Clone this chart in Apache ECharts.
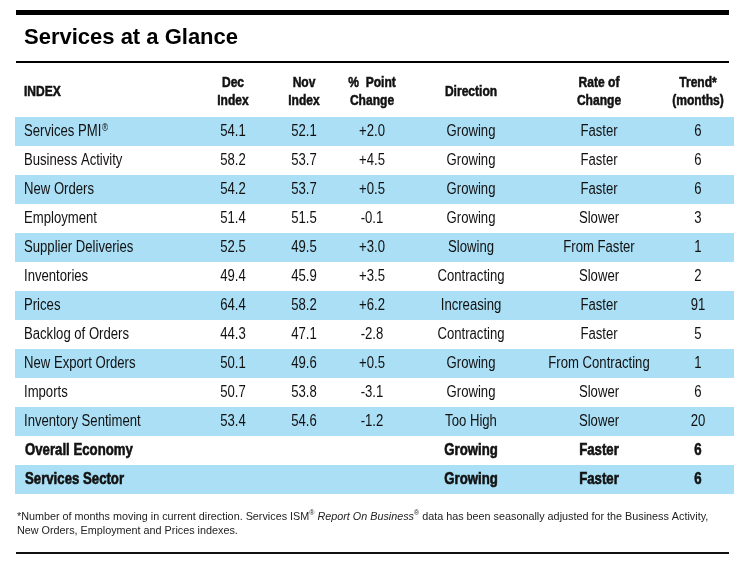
<!DOCTYPE html>
<html>
<head>
<meta charset="utf-8">
<script src="https://cdn.jsdelivr.net/npm/echarts@6/dist/echarts.min.js"></script>
<style>
    html, body { margin: 0; padding: 0; background: #fff; }
    #chart { width: 750px; height: 563px; }
</style>
</head>
<body>
<div id="chart"></div>
<script>
// table rows
let indexNames = ['Services PMI', 'Business Activity', 'New Orders', 'Employment', 'Supplier Deliveries',
    'Inventories', 'Prices', 'Backlog of Orders', 'New Export Orders', 'Imports', 'Inventory Sentiment',
    'Overall Economy', 'Services Sector'];
let decIndex = [54.1, 58.2, 54.2, 51.4, 52.5, 49.4, 64.4, 44.3, 50.1, 50.7, 53.4, null, null];
let novIndex = [52.1, 53.7, 53.7, 51.5, 49.5, 45.9, 58.2, 47.1, 49.6, 53.8, 54.6, null, null];
let pointChange = [2.0, 4.5, 0.5, -0.1, 3.0, 3.5, 6.2, -2.8, 0.5, -3.1, -1.2, null, null];
let direction = ['Growing', 'Growing', 'Growing', 'Growing', 'Slowing', 'Contracting', 'Increasing',
    'Contracting', 'Growing', 'Growing', 'Too High', 'Growing', 'Growing'];
let rateOfChange = ['Faster', 'Faster', 'Faster', 'Slower', 'From Faster', 'Slower', 'Faster', 'Faster',
    'From Contracting', 'Slower', 'Slower', 'Faster', 'Faster'];
let trendMonths = [6, 6, 6, 3, 1, 2, 91, 5, 1, 6, 20, 6, 6];

// no condensed font installed, so Liberation Sans gets squeezed horizontally
let sans = '"Liberation Sans", Arial, Helvetica, sans-serif';
let band = '#aadff6';

// x position of each column (0..750 axis = page pixels)
let colX = {name: 24, dec: 233, nov: 304, change: 372, direction: 471, rate: 599, trend: 698};

function fmtChange(v) {
    if (v === null) return '';
    return (v > 0 ? '+' : '') + v.toFixed(1);
}

function cellText(x, y, text, bold, align) {
    return {
        type: 'text',
        x: x,
        y: y,
        scaleX: bold ? 0.8 : 0.82,
        style: {
            text: text,
            x: 0,
            y: 0,
            fill: '#111',
            stroke: bold ? '#111' : null,
            lineWidth: bold ? 0.6 : 0,
            fontFamily: sans,
            fontSize: bold ? 16.5 : 16,
            fontWeight: bold ? 'bold' : 'normal',
            align: align || 'center',
            verticalAlign: 'middle',
            rich: {
                sup: {fontSize: 10, fontFamily: sans, verticalAlign: 'top', padding: [0, 0, 7, 1], fill: '#111'}
            }
        }
    };
}

function renderRow(params, api) {
    let i = api.value(0);
    let y = api.coord([0, i])[1];
    let h = api.size([0, 1])[1];
    let bold = decIndex[i] === null;
    let children = [];
    if (i % 2 === 0) {
        children.push({
            type: 'rect',
            shape: {x: 15, y: y - h / 2, width: 719, height: h},
            style: {fill: band}
        });
    }
    let px = function (k) { return api.coord([colX[k], i])[0]; };
    let name = indexNames[i] + (i === 0 ? '{sup|®}' : '');
    children.push(cellText(px('name') + (bold ? 1 : 0), y, name, bold, 'left'));
    if (decIndex[i] !== null) {
        children.push(cellText(px('dec'), y, decIndex[i].toFixed(1), false));
        children.push(cellText(px('nov'), y, novIndex[i].toFixed(1), false));
        children.push(cellText(px('change'), y, fmtChange(pointChange[i]), false));
    }
    children.push(cellText(px('direction'), y, direction[i], bold));
    children.push(cellText(px('rate'), y, rateOfChange[i], bold));
    children.push(cellText(px('trend'), y, String(trendMonths[i]), bold));
    return {type: 'group', children: children};
}

function headText(x, y, text, align) {
    return {
        type: 'text',
        x: x, y: y,
        scaleX: 0.86,
        style: {
            text: text, x: 0, y: 0, fill: '#111', stroke: '#111', lineWidth: 0.5,
            fontFamily: sans, fontSize: 14, fontWeight: 'bold',
            align: align || 'center', verticalAlign: 'middle', lineHeight: 18
        }
    };
}

let myChart = echarts.init(document.getElementById('chart'));
let option = {
    animation: false,
    backgroundColor: '#fff',
    grid: {left: 0, right: 0, top: 117, bottom: 69},
    xAxis: {type: 'value', min: 0, max: 750, show: false},
    yAxis: {type: 'category', inverse: true, data: indexNames, show: false},
    series: [{
        type: 'custom',
        renderItem: renderRow,
        data: indexNames.map(function (n, i) { return [i]; }),
        encode: {y: 0}
    }],
    graphic: [
        {type: 'rect', shape: {x: 16, y: 10, width: 713, height: 5}, style: {fill: '#000'}},
        {
            type: 'text', x: 24, y: 38,
            style: {text: 'Services at a Glance', fill: '#000', fontFamily: sans, fontSize: 22,
                fontWeight: 'bold', verticalAlign: 'middle'}
        },
        {type: 'rect', shape: {x: 16, y: 61, width: 713, height: 2}, style: {fill: '#000'}},
        headText(24, 92, 'INDEX', 'left'),
        headText(colX.dec, 92, 'Dec\nIndex'),
        headText(colX.nov, 92, 'Nov\nIndex'),
        headText(colX.change, 92, '%  Point\nChange'),
        headText(colX.direction, 92, 'Direction'),
        headText(colX.rate, 92, 'Rate of\nChange'),
        headText(colX.trend, 92, 'Trend*\n(months)'),
        {
            type: 'text', x: 17, y: 510,
            style: {
                text: '*Number of months moving in current direction. Services ISM{sup|®} {it|Report On Business}{sup|®} data has been seasonally adjusted for the Business Activity,\nNew Orders, Employment and Prices indexes.',
                fill: '#222', fontFamily: sans, fontSize: 10.8, lineHeight: 14,
                rich: {
                    sup: {fontSize: 7, fontFamily: sans, fill: '#222', verticalAlign: 'top', padding: [0, 0, 4, 0]},
                    it: {fontSize: 10.8, fontFamily: sans, fontStyle: 'italic', fill: '#222'}
                }
            }
        },
        {type: 'rect', shape: {x: 16, y: 552, width: 713, height: 2}, style: {fill: '#111'}}
    ]
};
myChart.setOption(option);
</script>
</body>
</html>
